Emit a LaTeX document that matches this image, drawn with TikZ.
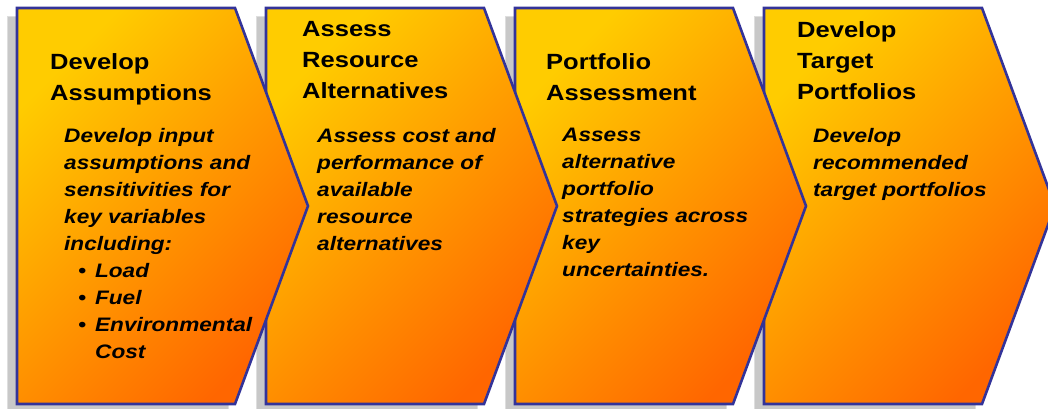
\documentclass[tikz,border=0pt]{standalone}
\usepackage{fontspec}
\newfontfamily\stepfont{Liberation Sans}[FakeStretch=1.16]
\usepackage{tikz}

\definecolor{stepyellow}{HTML}{FFCC00}
\definecolor{steporange}{HTML}{FF6600}
\definecolor{stepblue}{HTML}{333399}
\definecolor{stepshadow}{HTML}{C8C8C8}

\begin{document}
\begin{tikzpicture}[x=1pt,y=-1pt,
  step shape/.style={draw=stepblue,line width=2.6pt,line join=miter,
    top color=stepyellow,bottom color=steporange,shading angle=45},
  shadow box/.style={fill=stepshadow,draw=stepshadow!60,line width=1pt},
  title text/.style={anchor=north west,inner sep=0pt,align=left,
    font=\stepfont\bfseries\fontsize{22}{31}\selectfont},
  body text/.style={anchor=north west,inner sep=0pt,align=left,
    font=\stepfont\bfseries\itshape\fontsize{19.5}{27}\selectfont}]
  \useasboundingbox (0,0) rectangle (1048,409);
  % shadows
  \draw[shadow box] (7,17) rectangle (228,411);
  \draw[shadow box] (256,17) rectangle (477,411);
  \draw[shadow box] (505,17) rectangle (726,411);
  \draw[shadow box] (754,17) rectangle (975,411);
  % steps, last one first so the points lie on top
  \draw[step shape] (764,8) -- (982,8) -- (1055,206) -- (982,404) -- (764,404) -- cycle;
  \draw[step shape] (515,8) -- (733,8) -- (806,206) -- (733,404) -- (515,404) -- cycle;
  \draw[step shape] (266,8) -- (484,8) -- (557,206) -- (484,404) -- (266,404) -- cycle;
  \draw[step shape] (17,8) -- (235,8) -- (308,206) -- (235,404) -- (17,404) -- cycle;
  % texts
  \node[title text] (assumptions) at (50,53) {Develop\\Assumptions};
  \node[body text] (assumptions text) at (64,128) {Develop input\\assumptions and\\sensitivities for\\key variables\\including:\\
    \hspace*{14pt}\textbullet\hspace{9pt}Load\\
    \hspace*{14pt}\textbullet\hspace{9pt}Fuel\\
    \hspace*{14pt}\textbullet\hspace{9pt}Environmental\\
    \hspace*{31pt}Cost};
  \node[title text] (resources) at (302,21) {Assess\\Resource\\Alternatives};
  \node[body text] (resources text) at (317,128) {Assess cost and\\performance of\\available\\resource\\alternatives};
  \node[title text] (portfolio) at (546,53) {Portfolio\\Assessment};
  \node[body text] (portfolio text) at (562,128) {Assess\\alternative\\portfolio\\strategies across\\key\\uncertainties.};
  \node[title text] (target) at (797,21) {Develop\\Target\\Portfolios};
  \node[body text] (target text) at (813,128) {Develop\\recommended\\target portfolios};
\end{tikzpicture}
\end{document}
